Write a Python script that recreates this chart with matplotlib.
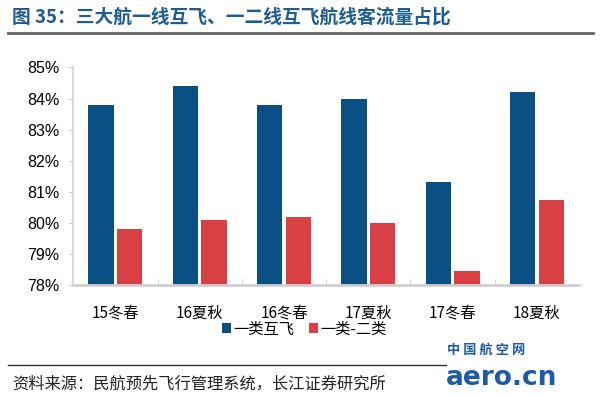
import matplotlib.pyplot as plt
import numpy as np

plt.rcParams['font.family'] = ['Noto Sans CJK SC', 'DejaVu Sans']

# data
categories = ['15冬春', '16夏秋', '16冬春', '17夏秋', '17冬春', '18夏秋']
tier1_tier1 = [83.8, 84.4, 83.8, 84.0, 81.3, 84.2]   # 一类互飞
tier1_tier2 = [79.8, 80.1, 80.2, 80.0, 78.45, 80.75]  # 一类-二类
series_names = ['一类互飞', '一类-二类']
yticks = [78, 79, 80, 81, 82, 83, 84, 85]

blue = '#0b5085'
red = '#d94043'

fig = plt.figure(figsize=(6, 3.97), dpi=100)
ax = fig.add_axes([0.122, 0.282, 0.843, 0.548])

x = np.arange(len(categories))
w = 0.3
ax.bar(x - 0.17, tier1_tier1, width=w, color=blue, label=series_names[0])
ax.bar(x + 0.17, tier1_tier2, width=w, color=red, label=series_names[1])

ax.set_ylim(78, 85)
ax.set_xlim(-0.5, len(categories) - 0.5)
ax.set_yticks(yticks)
ax.set_yticklabels([f'{v}%' for v in yticks], fontsize=11.5, family=['Liberation Sans', 'DejaVu Sans'])
ax.set_xticks(x)
ax.set_xticklabels(categories, fontsize=11)
ax.tick_params(axis='x', length=0, pad=14)
ax.tick_params(axis='y', length=3, color='#cccccc', pad=7)
# small ticks between categories on the bottom axis
ax.set_xticks(np.arange(0.5, len(categories) - 0.5, 1), minor=True)
ax.tick_params(axis='x', which='minor', length=4, color='#cccccc', direction='in')

for s in ['top', 'right']:
    ax.spines[s].set_visible(False)
ax.spines['left'].set_color('#d9d9d9')
ax.spines['left'].set_linewidth(1.5)
ax.spines['bottom'].set_color('#cfcfcf')
ax.spines['bottom'].set_linewidth(2)

ax.legend(loc='center', bbox_to_anchor=(0.457, -0.202), ncol=2, frameon=False,
          fontsize=11, handlelength=0.65, handleheight=0.65, handletextpad=0.15,
          columnspacing=0.9, borderpad=0)

# title and rules
fig.text(0.02, 0.957, '图 35：三大航一线互飞、一二线互飞航线客流量占比', fontsize=13.5,
         color='#1f5c8f', fontweight='bold', va='center')
fig.add_artist(plt.Line2D([0.013, 0.988], [0.917, 0.917], color='#666666', lw=2))
fig.add_artist(plt.Line2D([0.013, 0.743], [0.081, 0.081], color='#333333', lw=1))
fig.text(0.02, 0.033, '资料来源：民航预先飞行管理系统，长江证券研究所', fontsize=11.7,
         color='#222222', va='center')

# watermark
fig.text(0.745, 0.12, '中 国 航 空 网', fontsize=9.5, color='#1f5aa6', fontweight='bold', va='center')
fig.text(0.743, 0.03, 'aero.cn', fontsize=19, color='#1f5aa6', fontweight='bold', va='baseline',
         family=['DejaVu Sans'])

fig.savefig('out.png', dpi=100)
